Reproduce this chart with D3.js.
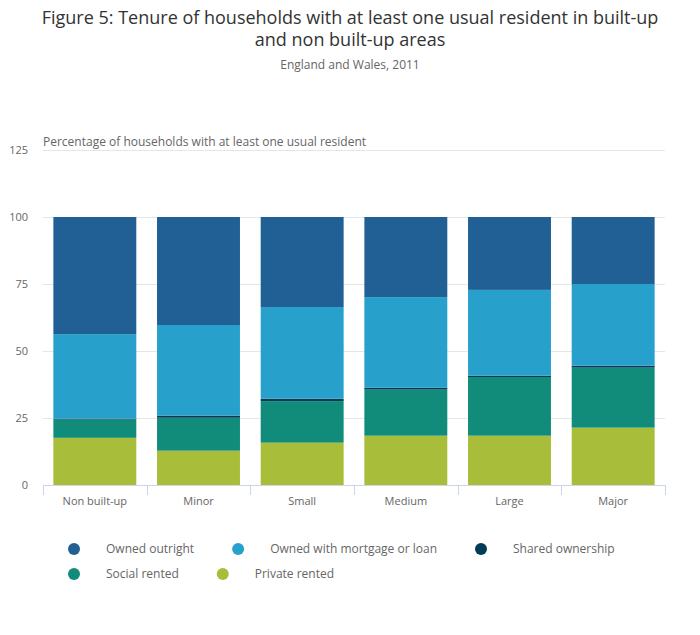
<!DOCTYPE html>
<html>
<head>
<meta charset="utf-8">
<script src="https://cdn.jsdelivr.net/npm/d3@7"></script>
<style>
	body { margin: 0; background: #fff; font-family: "Open Sans", sans-serif; }
</style>
</head>
<body>
<div id="wrapper"></div>
<script>
const categories = ["Non built-up", "Minor", "Small", "Medium", "Large", "Major"];
const seriesNames = [
	"Owned outright",
	"Owned with mortgage or loan",
	"Shared ownership",
	"Social rented",
	"Private rented",
];
// stacked bottom-up: private, social, shared, mortgage, outright
const privateRented = [17.6, 12.8, 15.8, 18.4, 18.4, 21.4];
const socialRented = [6.8, 12.3, 15.5, 17.2, 21.9, 22.4];
const sharedOwnership = [0.3, 0.8, 0.9, 0.7, 0.5, 0.7];
const ownedMortgage = [31.6, 33.8, 34.2, 33.8, 32.0, 30.5];
const ownedOutright = [43.7, 40.3, 33.6, 29.9, 27.2, 25.0];
const yTicks = [0, 25, 50, 75, 100, 125];

const colors = {
	"Owned outright": "#206095",
	"Owned with mortgage or loan": "#27a0cc",
	"Shared ownership": "#003c57",
	"Social rented": "#118c7b",
	"Private rented": "#a8bd3a",
};

const width = 700;
const height = 635;
const margins = { top: 150, right: 35, bottom: 150, left: 43 };
const boundedWidth = width - margins.left - margins.right;
const boundedHeight = height - margins.top - margins.bottom;

const rows = categories.map((c, i) => ({
	category: c,
	"Owned outright": ownedOutright[i],
	"Owned with mortgage or loan": ownedMortgage[i],
	"Shared ownership": sharedOwnership[i],
	"Social rented": socialRented[i],
	"Private rented": privateRented[i],
}));

const stackOrder = [
	"Private rented",
	"Social rented",
	"Shared ownership",
	"Owned with mortgage or loan",
	"Owned outright",
];
const stacked = d3.stack().keys(stackOrder)(rows);

const svg = d3
	.select("#wrapper")
	.append("svg")
	.attr("width", width)
	.attr("height", height)
	.attr("viewBox", `0 0 ${width} ${height}`);

// Titles
svg.append("text")
	.attr("x", width / 2)
	.attr("y", 24)
	.attr("text-anchor", "middle")
	.attr("font-size", 18)
	.attr("fill", "#333")
	.text("Figure 5: Tenure of households with at least one usual resident in built-up");
svg.append("text")
	.attr("x", width / 2)
	.attr("y", 46)
	.attr("text-anchor", "middle")
	.attr("font-size", 18)
	.attr("fill", "#333")
	.text("and non built-up areas");
svg.append("text")
	.attr("x", width / 2)
	.attr("y", 69)
	.attr("text-anchor", "middle")
	.attr("font-size", 12)
	.attr("fill", "#666")
	.text("England and Wales, 2011");

const bounds = svg
	.append("g")
	.attr("transform", `translate(${margins.left}, ${margins.top})`);

const xScale = d3
	.scaleBand()
	.domain(categories)
	.range([0, boundedWidth])
	.paddingInner(0.2)
	.paddingOuter(0.1);

const yScale = d3.scaleLinear().domain([0, 125]).range([boundedHeight, 0]);

// Gridlines
bounds
	.selectAll(".grid")
	.data(yTicks.filter((t) => t > 0))
	.enter()
	.append("line")
	.attr("class", "grid")
	.attr("x1", 0)
	.attr("x2", boundedWidth)
	.attr("y1", (d) => yScale(d) + 0.5)
	.attr("y2", (d) => yScale(d) + 0.5)
	.attr("stroke", "#e6e6e6")
	.attr("stroke-width", 1);

// Y axis labels
const yAxis = bounds
	.append("g")
	.call(d3.axisLeft(yScale).tickValues(yTicks).tickSize(0).tickPadding(15));
yAxis.select(".domain").remove();
yAxis.selectAll("text")
	.attr("font-family", "Open Sans, sans-serif")
	.attr("font-size", 11)
	.attr("fill", "#666");

// Axis title
bounds
	.append("text")
	.attr("x", 0)
	.attr("y", -4)
	.attr("font-size", 12)
	.attr("fill", "#666")
	.text("Percentage of households with at least one usual resident");

// Bars
bounds
	.selectAll(".series")
	.data(stacked)
	.enter()
	.append("g")
	.attr("class", "series")
	.attr("fill", (d) => colors[d.key])
	.selectAll("rect")
	.data((d) => d)
	.enter()
	.append("rect")
	.attr("x", (d) => xScale(d.data.category))
	.attr("width", xScale.bandwidth())
	.attr("y", (d) => yScale(d[1]))
	.attr("height", (d) => yScale(d[0]) - yScale(d[1]));

// X axis
const step = xScale.step();
const xAxis = bounds
	.append("g")
	.attr("transform", `translate(0, ${boundedHeight})`)
	.call(d3.axisBottom(xScale).tickSize(0).tickPadding(12));
xAxis.select(".domain").remove();
xAxis.selectAll("text")
	.attr("font-family", "Open Sans, sans-serif")
	.attr("font-size", 11)
	.attr("fill", "#666");

bounds
	.append("line")
	.attr("x1", 0)
	.attr("x2", boundedWidth)
	.attr("y1", boundedHeight + 0.5)
	.attr("y2", boundedHeight + 0.5)
	.attr("stroke", "#ccd6eb");

bounds
	.selectAll(".xtick")
	.data(d3.range(categories.length + 1))
	.enter()
	.append("line")
	.attr("class", "xtick")
	.attr("x1", (i) => Math.round(i * step) + 0.5)
	.attr("x2", (i) => Math.round(i * step) + 0.5)
	.attr("y1", boundedHeight)
	.attr("y2", boundedHeight + 10)
	.attr("stroke", "#ccd6eb");

// Legend
const legendRows = [
	["Owned outright", "Owned with mortgage or loan", "Shared ownership"],
	["Social rented", "Private rented"],
];
const legend = svg.append("g");
legendRows.forEach((row, r) => {
	let x = 74;
	const y = 549 + r * 25;
	row.forEach((name) => {
		legend
			.append("circle")
			.attr("cx", x)
			.attr("cy", y)
			.attr("r", 6)
			.attr("fill", colors[name]);
		const label = legend
			.append("text")
			.attr("x", x + 32)
			.attr("y", y + 4)
			.attr("font-size", 12)
			.attr("fill", "#666")
			.text(name);
		x += 32 + label.node().getComputedTextLength() + 44;
	});
});
</script>
</body>
</html>
